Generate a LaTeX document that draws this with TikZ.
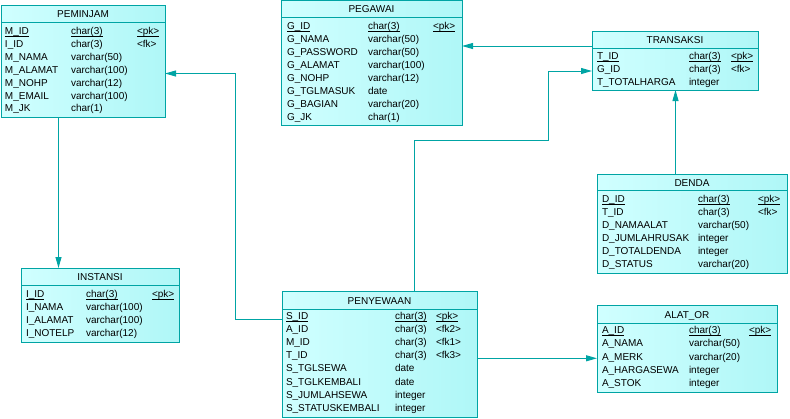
\documentclass[tikz,border=0pt]{standalone}
\usepackage{fontspec}
\setmainfont{Liberation Sans}
\usetikzlibrary{arrows.meta,calc}
\definecolor{teal1}{RGB}{0,164,164}
\definecolor{cyanL}{RGB}{208,255,255}
\definecolor{cyanR}{RGB}{175,247,247}
\newcommand\myul[1]{\setbox0\hbox{#1}\rlap{\vrule height -1.3pt depth 2.2pt width \wd0}\box0}
\newcommand\erow[5]{%
  \node[cell] (#1r#2a) at (\xa,{\yb+\ys*#2}) {#3};
  \node[cell] (#1r#2b) at (\xb,{\yb+\ys*#2}) {#4};
  \node[cell] (#1r#2c) at (\xc,{\yb+\ys*#2}) {#5};}
\newcommand\erowx[4]{%
  \node[cell] (#1r#2a) at (\xa,{\yb+\ys*#2}) {#3};
  \node[cell] (#1r#2b) at (\xb,{\yb+\ys*#2}) {#4};}
\newcommand\ertab[7]{% name, x1, y1, x2, y2, ysep, title
  \node[tbl, anchor=north west, minimum width={(#4-#2)*1pt}, minimum height={(#5-#3)*1pt}] (#1) at (#2,#3) {};
  \draw[sepline] (#2,#6) -- (#4,#6);
  \node[cell, anchor=base] (#1t) at ({(#2+#4)/2},{(#3+#6)/2+4}) {#7};}
\begin{document}
\begin{tikzpicture}[x=1pt,y=-1pt,
  tbl/.style={draw=teal1, line width=1pt, left color=cyanL, right color=cyanR, inner sep=0pt, outer sep=0pt},
  sepline/.style={draw=teal1, line width=1pt},
  cell/.style={inner sep=0pt, outer sep=0pt, anchor=base west, font=\fontsize{10}{12}\selectfont},
  conn/.style={draw=teal1, line width=1pt, -{Triangle[length=11pt,width=6pt]}}]
\useasboundingbox (0,0) rectangle (790,418);

% PEMINJAM
\ertab{pem}{1}{5}{165}{117}{22}{PEMINJAM}
\def\xa{5}\def\xb{71}\def\xc{137}\def\yb{34.5}\def\ys{12.9}
\erow{pem}{0}{\myul{M\_ID}}{\myul{char(3)}}{\myul{<pk>}}
\erow{pem}{1}{I\_ID}{char(3)}{<fk>}
\erowx{pem}{2}{M\_NAMA}{varchar(50)}
\erowx{pem}{3}{M\_ALAMAT}{varchar(100)}
\erowx{pem}{4}{M\_NOHP}{varchar(12)}
\erowx{pem}{5}{M\_EMAIL}{varchar(100)}
\erowx{pem}{6}{M\_JK}{char(1)}

% PEGAWAI
\ertab{peg}{281}{0.5}{462}{125}{17}{PEGAWAI}
\def\xa{287}\def\xb{368}\def\xc{433}\def\yb{29.5}\def\ys{12.95}
\erow{peg}{0}{\myul{G\_ID}}{\myul{char(3)}}{\myul{<pk>}}
\erowx{peg}{1}{G\_NAMA}{varchar(50)}
\erowx{peg}{2}{G\_PASSWORD}{varchar(50)}
\erowx{peg}{3}{G\_ALAMAT}{varchar(100)}
\erowx{peg}{4}{G\_NOHP}{varchar(12)}
\erowx{peg}{5}{G\_TGLMASUK}{date}
\erowx{peg}{6}{G\_BAGIAN}{varchar(20)}
\erowx{peg}{7}{G\_JK}{char(1)}

% TRANSAKSI
\ertab{tra}{592}{31}{758}{90}{48}{TRANSAKSI}
\def\xa{597}\def\xb{689}\def\xc{731}\def\yb{59.5}\def\ys{12.9}
\erow{tra}{0}{\myul{T\_ID}}{\myul{char(3)}}{\myul{<pk>}}
\erow{tra}{1}{G\_ID}{char(3)}{<fk>}
\erowx{tra}{2}{T\_TOTALHARGA}{integer}

% DENDA
\ertab{den}{597}{174}{787}{273}{190}{DENDA}
\def\xa{602}\def\xb{698}\def\xc{758}\def\yb{202.8}\def\ys{13}
\erow{den}{0}{\myul{D\_ID}}{\myul{char(3)}}{\myul{<pk>}}
\erow{den}{1}{T\_ID}{char(3)}{<fk>}
\erowx{den}{2}{D\_NAMAALAT}{varchar(50)}
\erowx{den}{3}{D\_JUMLAHRUSAK}{integer}
\erowx{den}{4}{D\_TOTALDENDA}{integer}
\erowx{den}{5}{D\_STATUS}{varchar(20)}

% INSTANSI
\ertab{ins}{21}{268}{179}{342}{285}{INSTANSI}
\def\xa{26}\def\xb{86}\def\xc{152}\def\yb{297.5}\def\ys{12.9}
\erow{ins}{0}{\myul{I\_ID}}{\myul{char(3)}}{\myul{<pk>}}
\erowx{ins}{1}{I\_NAMA}{varchar(100)}
\erowx{ins}{2}{I\_ALAMAT}{varchar(100)}
\erowx{ins}{3}{I\_NOTELP}{varchar(12)}

% PENYEWAAN
\ertab{pen}{282}{291}{477}{417}{309}{PENYEWAAN}
\def\xa{286}\def\xb{395}\def\xc{436}\def\yb{319.5}\def\ys{13.1}
\erow{pen}{0}{\myul{S\_ID}}{\myul{char(3)}}{\myul{<pk>}}
\erow{pen}{1}{A\_ID}{char(3)}{<fk2>}
\erow{pen}{2}{M\_ID}{char(3)}{<fk1>}
\erow{pen}{3}{T\_ID}{char(3)}{<fk3>}
\erowx{pen}{4}{S\_TGLSEWA}{date}
\erowx{pen}{5}{S\_TGLKEMBALI}{date}
\erowx{pen}{6}{S\_JUMLAHSEWA}{integer}
\erowx{pen}{7}{S\_STATUSKEMBALI}{integer}

% ALAT_OR
\ertab{alt}{597}{305}{777}{392}{323}{ALAT\_OR}
\def\xa{602}\def\xb{689}\def\xc{749}\def\yb{333.5}\def\ys{13.3}
\erow{alt}{0}{\myul{A\_ID}}{\myul{char(3)}}{\myul{<pk>}}
\erowx{alt}{1}{A\_NAMA}{varchar(50)}
\erowx{alt}{2}{A\_MERK}{varchar(20)}
\erowx{alt}{3}{A\_HARGASEWA}{integer}
\erowx{alt}{4}{A\_STOK}{integer}

% connectors
\coordinate (j1a) at (235.7,319.3);
\coordinate (j1b) at (235.7,73.5);
\coordinate (j2) at (58.5,0);
\coordinate (j3) at (0,46);
\coordinate (j4a) at (414,140);
\coordinate (j4b) at (548,140);
\coordinate (j4c) at (548,71);
\coordinate (j5) at (675.5,0);
\coordinate (j6) at (0,358.3);

\draw[conn] (pen.west |- j1a) -- (j1a) -- (j1b) -- (pem.east |- j1b);
\draw[conn] (pem.south -| j2) -- (ins.north -| j2);
\draw[conn] (tra.west |- j3) -- (peg.east |- j3);
\draw[conn] (pen.north -| j4a) -- (j4a) -- (j4b) -- (j4c) -- (tra.west |- j4c);
\draw[conn] (den.north -| j5) -- (tra.south -| j5);
\draw[conn] (pen.east |- j6) -- (alt.west |- j6);
\end{tikzpicture}
\end{document}
